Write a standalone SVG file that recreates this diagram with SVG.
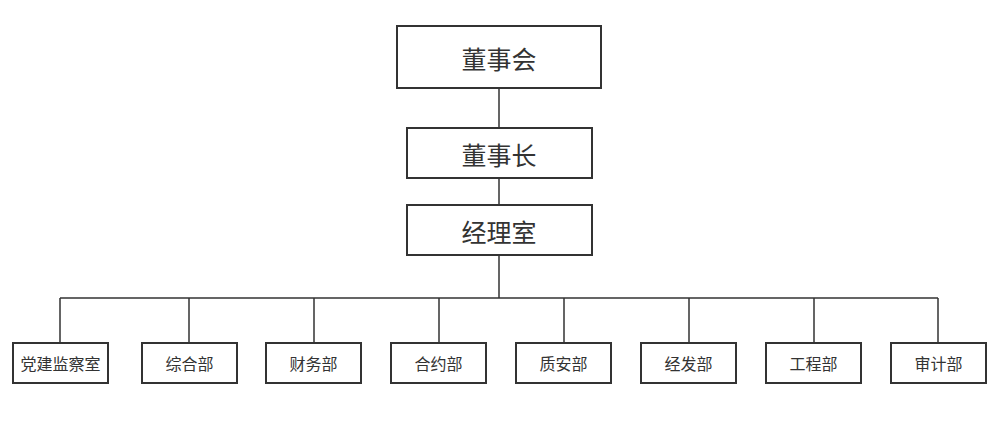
<svg xmlns="http://www.w3.org/2000/svg" width="999" height="430" viewBox="0 0 999 430">
<style>
.box{fill:#fff;stroke:#333;stroke-width:2}
.ln{stroke:#333;stroke-width:1.5;fill:none}
.t{font-family:"Microsoft YaHei","Noto Sans CJK SC",sans-serif;fill:#333;text-anchor:middle;dominant-baseline:central}
.big{font-size:25px}
.sm{font-size:16px}
</style>
<rect width="999" height="430" fill="#fff"/>
<g id="connectors">
<path class="ln" d="M499 88V128M499 178V205M499 255V298M60 298H938"/>
<path class="ln" d="M60 298V343M189 298V343M314 298V343M439 298V343M564 298V343M689 298V343M814 298V343M938 298V343"/>
</g>
<g id="n-board"><rect class="box" x="397" y="26" width="204" height="62"/><text class="t big" x="499" y="58">董事会</text></g>
<g id="n-chair"><rect class="box" x="407" y="128" width="185" height="50"/><text class="t big" x="499" y="154">董事长</text></g>
<g id="n-manager"><rect class="box" x="407" y="205" width="185" height="50"/><text class="t big" x="499" y="231">经理室</text></g>
<g id="n-party"><rect class="box" x="13" y="343" width="95" height="40"/><text class="t sm" x="60.5" y="363">党建监察室</text></g>
<g id="n-general"><rect class="box" x="142" y="343" width="95" height="40"/><text class="t sm" x="189.5" y="363">综合部</text></g>
<g id="n-finance"><rect class="box" x="266" y="343" width="95" height="40"/><text class="t sm" x="313.5" y="363">财务部</text></g>
<g id="n-contract"><rect class="box" x="391" y="343" width="95" height="40"/><text class="t sm" x="438.5" y="363">合约部</text></g>
<g id="n-quality"><rect class="box" x="516" y="343" width="95" height="40"/><text class="t sm" x="563.5" y="363">质安部</text></g>
<g id="n-dev"><rect class="box" x="641" y="343" width="95" height="40"/><text class="t sm" x="688.5" y="363">经发部</text></g>
<g id="n-eng"><rect class="box" x="766" y="343" width="95" height="40"/><text class="t sm" x="813.5" y="363">工程部</text></g>
<g id="n-audit"><rect class="box" x="891" y="343" width="95" height="40"/><text class="t sm" x="938.5" y="363">审计部</text></g>
</svg>
